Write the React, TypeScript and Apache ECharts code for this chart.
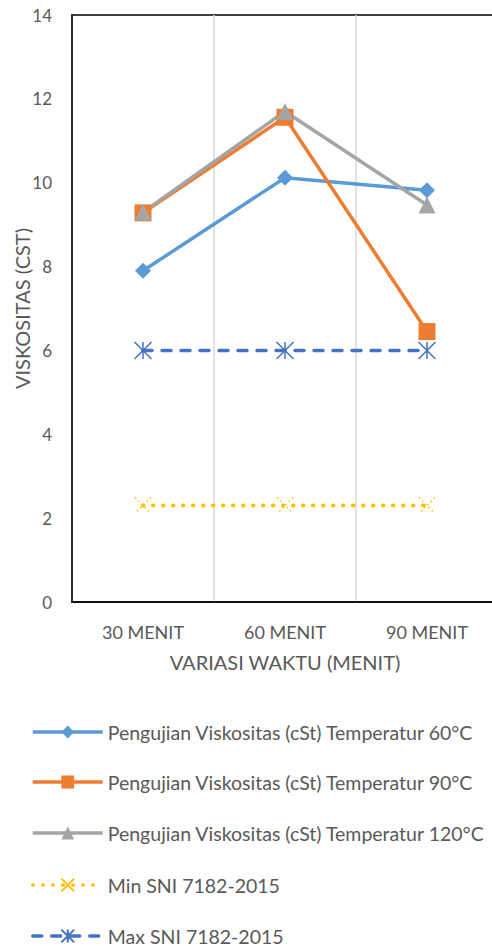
import React, { useEffect, useRef } from "react";
import * as echarts from "echarts";

// Time variations (x categories)
const categories = ["30 MENIT", "60 MENIT", "90 MENIT"];

// Measured viscosity (cSt) at each temperature
const visc60 = [7.9, 10.12, 9.82];
const visc90 = [9.28, 11.56, 6.45];
const visc120 = [9.3, 11.7, 9.47];

// SNI 7182-2015 limits
const minSNI = [2.3, 2.3, 2.3];
const maxSNI = [6, 6, 6];

const yTicks = { min: 0, max: 14, interval: 2 };

const seriesNames = [
  "Pengujian Viskositas (cSt) Temperatur 60°C",
  "Pengujian Viskositas (cSt) Temperatur 90°C",
  "Pengujian Viskositas (cSt) Temperatur 120°C",
  "Min SNI 7182-2015",
  "Max SNI 7182-2015",
];

const FONT = "Lato, 'Noto Sans', sans-serif";
const TEXT = "#595959";

// asterisk marker: X plus vertical stroke
const starPath = "path://M0 0L16 16M16 0L0 16M8 0L8 16";
const crossPath = "path://M0 0L16 16M16 0L0 16";

// one legend block per series, stacked vertically
const legendRowCenters = [732, 782, 833, 885, 936];

export default function App() {
  const ref = useRef<HTMLDivElement>(null);

  useEffect(() => {
    if (!ref.current) return;
    const chart = echarts.init(ref.current, undefined, { renderer: "svg" });
    chart.setOption({
      animation: false,
      backgroundColor: "#fff",
      textStyle: { fontFamily: FONT },
      grid: {
        left: 72,
        top: 15,
        right: -6,
        bottom: 344,
        outerBoundsMode: "none",
        containLabel: false,
        show: true,
        borderColor: "#000",
        borderWidth: 1.5,
      },
      xAxis: {
        type: "category",
        data: categories,
        boundaryGap: true,
        name: "VARIASI WAKTU (MENIT)",
        nameLocation: "middle",
        nameGap: 50,
        nameMoveOverlap: false,
        nameTextStyle: { color: TEXT, fontSize: 20, fontFamily: FONT },
        axisLine: { lineStyle: { color: "#000", width: 1.5 } },
        axisTick: { show: false },
        axisLabel: { color: TEXT, fontSize: 18, margin: 21, fontFamily: FONT },
        splitLine: { show: true, lineStyle: { color: "#D9D9D9", width: 1.5 } },
      },
      yAxis: {
        type: "value",
        min: yTicks.min,
        max: yTicks.max,
        interval: yTicks.interval,
        name: "VISKOSITAS (CST)",
        nameLocation: "middle",
        nameGap: 40,
        nameMoveOverlap: false,
        nameTextStyle: { color: TEXT, fontSize: 20, fontFamily: FONT },
        axisLine: { show: true, lineStyle: { color: "#000", width: 1.5 } },
        axisTick: { show: false },
        axisLabel: { color: TEXT, fontSize: 17, margin: 20, fontFamily: FONT },
        splitLine: { show: false },
      },
      legend: seriesNames.map((name, i) => ({
        orient: "vertical",
        left: 26,
        top: legendRowCenters[i] - 15,
        itemWidth: 70,
        itemHeight: 16,
        lineStyle: { width: 3.5 },
        textStyle: { color: TEXT, fontSize: 19.5, fontFamily: FONT },
        data: [name],
      })),
      series: [
        {
          name: seriesNames[0],
          type: "line",
          data: visc60,
          symbol: "diamond",
          symbolSize: 16,
          lineStyle: { color: "#5B9BD5", width: 3.5 },
          itemStyle: { color: "#5B9BD5" },
        },
        {
          name: seriesNames[1],
          type: "line",
          data: visc90,
          symbol: "rect",
          symbolSize: 17,
          lineStyle: { color: "#ED7D31", width: 3.5 },
          itemStyle: { color: "#ED7D31" },
        },
        {
          name: seriesNames[2],
          type: "line",
          data: visc120,
          symbol: "triangle",
          symbolSize: 17,
          lineStyle: { color: "#A5A5A5", width: 3.5 },
          itemStyle: { color: "#A5A5A5" },
        },
        {
          name: seriesNames[3],
          type: "line",
          data: minSNI,
          symbol: crossPath,
          symbolSize: 16,
          lineStyle: { color: "#FFC000", width: 4, type: [0.5, 9.5], cap: "round" },
          itemStyle: {
            color: "#FFC000",
            borderColor: "#FFC000",
            borderWidth: 1.5,
            borderType: [1.5, 3],
          },
        },
        {
          name: seriesNames[4],
          type: "line",
          data: maxSNI,
          symbol: starPath,
          symbolSize: 17,
          lineStyle: { color: "#4472C4", width: 3.5, type: [9, 10], cap: "round" },
          itemStyle: {
            color: "#4472C4",
            borderColor: "#4472C4",
            borderWidth: 1.5,
          },
        },
      ],
    });
    return () => chart.dispose();
  }, []);

  return (
    <div
      ref={ref}
      style={{ position: "absolute", left: 0, top: 0, width: 492, height: 946 }}
    />
  );
}
